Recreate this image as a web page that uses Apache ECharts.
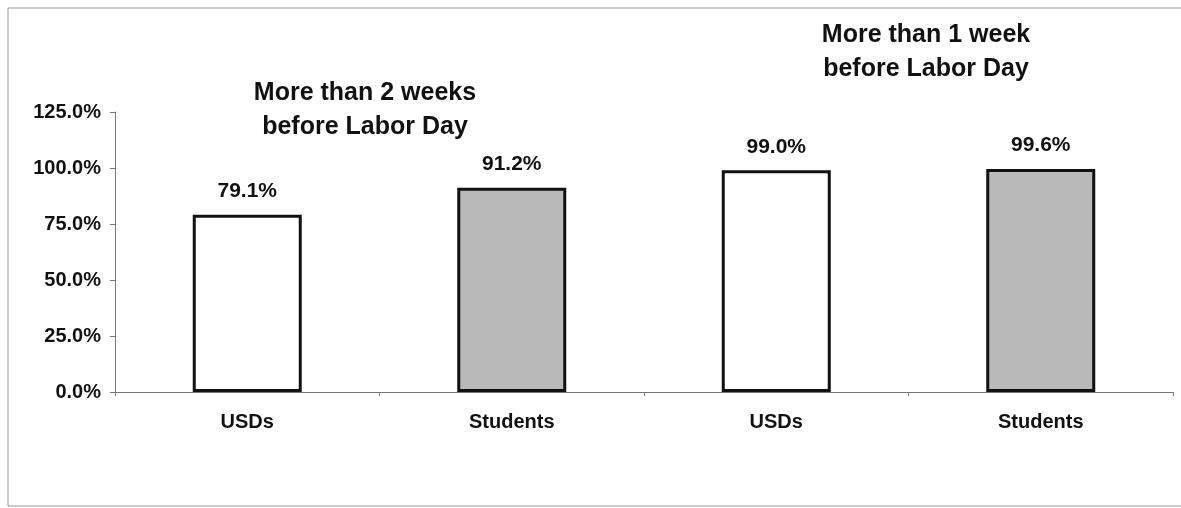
<!DOCTYPE html>
<html>
<head>
<meta charset="utf-8">
<script src="https://cdn.jsdelivr.net/npm/echarts@6/dist/echarts.min.js"></script>
<style>
  html, body { margin: 0; padding: 0; background: #fff; }
  #main { width: 1181px; height: 508px; }
</style>
</head>
<body>
<div id="main"></div>
<script>
// data
var categories = ['USDs', 'Students', 'USDs', 'Students'];
var values = [79.1, 91.2, 99.0, 99.6];
var fills = ['#ffffff', '#b9b9b9', '#ffffff', '#b9b9b9'];
var groupNotes = ['More than 2 weeks\nbefore Labor Day', 'More than 1 week\nbefore Labor Day'];

var font = '"Liberation Sans", Arial, sans-serif';

var barData = [];
for (var i = 0; i < values.length; i++) {
    barData.push({
        value: values[i],
        itemStyle: { color: fills[i] }
    });
}

var chart = echarts.init(document.getElementById('main'));
chart.setOption({
    backgroundColor: '#fff',
    animation: false,
    textStyle: { fontFamily: font },
    grid: { left: 115, right: 8, top: 112, bottom: 116, containLabel: false },
    xAxis: {
        type: 'category',
        data: categories,
        axisLine: { lineStyle: { color: '#777', width: 1 } },
        axisTick: { show: true, length: 4, lineStyle: { color: '#777' } },
        axisLabel: { color: '#111', fontSize: 20, fontWeight: 'bold', fontFamily: font, margin: 20 }
    },
    yAxis: {
        type: 'value',
        min: 0,
        max: 125,
        interval: 25,
        splitLine: { show: false },
        axisLine: { show: true, lineStyle: { color: '#777', width: 1 } },
        axisTick: { show: true, length: 5, lineStyle: { color: '#777' } },
        axisLabel: {
            color: '#111', fontSize: 20, fontWeight: 'bold', fontFamily: font, margin: 14,
            formatter: function (v) { return v.toFixed(1) + '%'; }
        }
    },
    series: [{
        type: 'bar',
        data: barData,
        barWidth: 109,
        itemStyle: { borderColor: '#111', borderWidth: 3 },
        label: {
            show: true,
            position: 'top',
            distance: 13,
            color: '#111',
            fontSize: 21,
            fontWeight: 'bold',
            fontFamily: font,
            formatter: function (p) { return p.value.toFixed(1) + '%'; }
        }
    }],
    graphic: [
        { type: 'line', shape: { x1: 8, y1: 8, x2: 1181, y2: 8 }, style: { stroke: '#999', lineWidth: 1 } },
        { type: 'line', shape: { x1: 8, y1: 8, x2: 8, y2: 506 }, style: { stroke: '#999', lineWidth: 1 } },
        { type: 'line', shape: { x1: 8, y1: 506, x2: 1181, y2: 506 }, style: { stroke: '#999', lineWidth: 1 } },
        {
            type: 'text', x: 365, y: 76,
            style: {
                text: groupNotes[0], fill: '#111', font: 'bold 25px ' + font,
                textAlign: 'center', lineHeight: 34
            }
        },
        {
            type: 'text', x: 926, y: 18,
            style: {
                text: groupNotes[1], fill: '#111', font: 'bold 25px ' + font,
                textAlign: 'center', lineHeight: 34
            }
        }
    ]
});
</script>
</body>
</html>
